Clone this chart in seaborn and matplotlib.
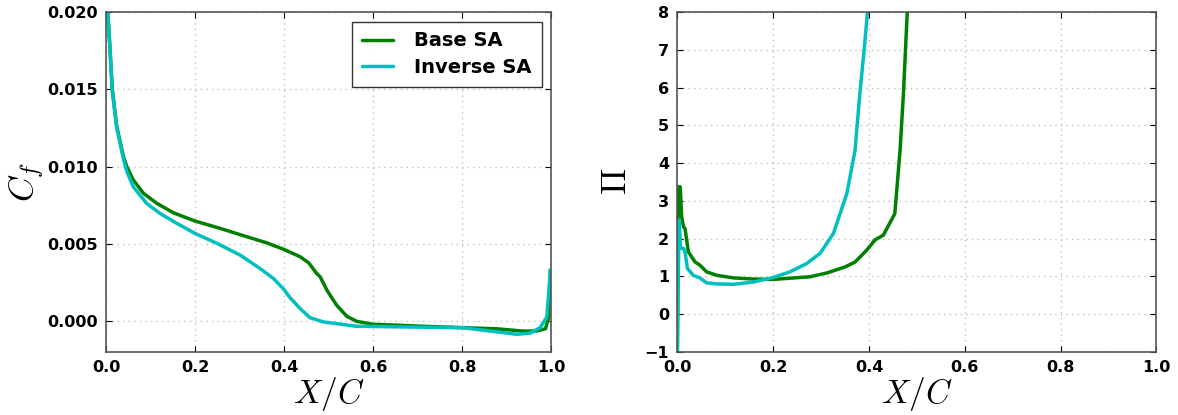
import numpy as np
import pandas as pd
import matplotlib
matplotlib.use("Agg")
import matplotlib.pyplot as plt
import seaborn as sns

# Skin friction along the chord
cf_base_x = [0.001, 0.004, 0.009, 0.014, 0.024, 0.039, 0.0465, 0.061, 0.084, 0.114, 0.151,
             0.20, 0.256, 0.309, 0.361, 0.40, 0.436, 0.455, 0.473, 0.481, 0.496, 0.518,
             0.541, 0.563, 0.60, 0.713, 0.80, 0.876, 0.936, 0.966, 0.987, 0.994, 0.998]
cf_base = [0.0235, 0.0200, 0.0176, 0.0150, 0.0126, 0.01066, 0.0100, 0.00914, 0.00827,
           0.00762, 0.00701, 0.00647, 0.0060, 0.00552, 0.00506, 0.00463, 0.00416, 0.00377,
           0.00308, 0.00286, 0.0020, 0.00102, 0.0003, -0.00002, -0.00021, -0.00034,
           -0.00043, -0.0005, -0.00065, -0.00065, -0.0005, 0.00026, 0.0033]

cf_inv_x = [0.001, 0.004, 0.009, 0.014, 0.024, 0.039, 0.0465, 0.061, 0.091, 0.121, 0.159,
            0.20, 0.249, 0.301, 0.346, 0.376, 0.398, 0.413, 0.436, 0.458, 0.488, 0.563,
            0.713, 0.80, 0.863, 0.923, 0.953, 0.975, 0.99, 0.998]
cf_inv = [0.0235, 0.0200, 0.0175, 0.0149, 0.0125, 0.0105, 0.0097, 0.0087, 0.00762,
          0.00697, 0.00632, 0.00567, 0.00503, 0.00427, 0.0034, 0.00275, 0.0021, 0.00152,
          0.0008, 0.00022, -0.00006, -0.00034, -0.0004, -0.00043, -0.00065, -0.00086,
          -0.00078, -0.00043, 0.00026, 0.0033]

# Wake parameter along the chord
pi_base_x = [0.0, 0.002, 0.006, 0.009, 0.013, 0.016, 0.023, 0.037, 0.047, 0.061, 0.082,
             0.117, 0.159, 0.20, 0.277, 0.312, 0.35, 0.371, 0.395, 0.413, 0.43, 0.454,
             0.465, 0.472, 0.48, 0.482]
pi_base = [-1.0, 3.37, 3.37, 2.57, 2.31, 2.27, 1.65, 1.38, 1.3, 1.12, 1.03,
           0.96, 0.93, 0.92, 0.99, 1.09, 1.25, 1.38, 1.69, 1.97, 2.09, 2.66,
           4.34, 5.84, 8.0, 8.5]

pi_inv_x = [0.0, 0.0035, 0.007, 0.013, 0.016, 0.021, 0.033, 0.047, 0.061, 0.082, 0.117,
            0.159, 0.20, 0.235, 0.27, 0.298, 0.326, 0.354, 0.371, 0.381, 0.39, 0.397, 0.399]
pi_inv = [-1.0, 2.49, 1.74, 1.74, 1.65, 1.21, 1.03, 0.96, 0.83, 0.8, 0.79,
          0.85, 0.97, 1.12, 1.34, 1.61, 2.14, 3.2, 4.34, 5.84, 7.0, 8.0, 8.5]

series_names = ["Base SA", "Inverse SA"]
series_colors = ["#008000", "#00bfbf"]

x_ticks = [0.0, 0.2, 0.4, 0.6, 0.8, 1.0]
cf_ticks = [0.000, 0.005, 0.010, 0.015, 0.020]
pi_ticks = [-1, 0, 1, 2, 3, 4, 5, 6, 7, 8]

sns.set_style("ticks")
plt.rcParams.update({
    "font.family": ["DejaVu Sans"],
    "font.weight": "bold",
    "font.size": 11.5,
    "text.color": "black",
    "axes.labelcolor": "black",
    "mathtext.fontset": "cm",
    "axes.edgecolor": "#555555",
    "axes.linewidth": 1.2,
    "xtick.direction": "in",
    "ytick.direction": "in",
    "xtick.top": True,
    "ytick.right": True,
    "xtick.major.size": 4,
    "ytick.major.size": 4,
    "xtick.color": "black",
    "ytick.color": "black",
})

fig = plt.figure(figsize=(11.78, 4.15), dpi=100)
ax1 = fig.add_axes([0.090, 0.152, 0.378, 0.819])
ax2 = fig.add_axes([0.575, 0.152, 0.4066, 0.819])

cf_df = pd.concat([
    pd.DataFrame({"x": cf_base_x, "y": cf_base, "model": series_names[0]}),
    pd.DataFrame({"x": cf_inv_x, "y": cf_inv, "model": series_names[1]}),
])
pi_df = pd.concat([
    pd.DataFrame({"x": pi_base_x, "y": pi_base, "model": series_names[0]}),
    pd.DataFrame({"x": pi_inv_x, "y": pi_inv, "model": series_names[1]}),
])
palette = dict(zip(series_names, series_colors))

sns.lineplot(data=cf_df, x="x", y="y", hue="model", palette=palette, sort=False,
             estimator=None, linewidth=2.5, ax=ax1)
sns.lineplot(data=pi_df, x="x", y="y", hue="model", palette=palette, sort=False,
             estimator=None, linewidth=2.5, ax=ax2, legend=False)

ax1.set_xlim(0, 1)
ax1.set_ylim(-0.002, 0.020)
ax1.set_xticks(x_ticks)
ax1.set_yticks(cf_ticks)
ax1.set_xticklabels([f"{v:.1f}" for v in x_ticks])
ax1.set_yticklabels([f"{v:.3f}" for v in cf_ticks])
ax1.set_xlabel(r"$X/C$", fontsize=24, labelpad=0)
ax1.set_ylabel(r"$C_f$", fontsize=25, labelpad=0)

ax2.set_xlim(0, 1)
ax2.set_ylim(-1, 8)
ax2.set_xticks(x_ticks)
ax2.set_yticks(pi_ticks)
ax2.set_xticklabels([f"{v:.1f}" for v in x_ticks])
ax2.set_yticklabels(["\u22121" if v < 0 else str(v) for v in pi_ticks])
ax2.set_xlabel(r"$X/C$", fontsize=24, labelpad=0)
ax2.set_ylabel(r"$\Pi$", fontsize=25, labelpad=8)

for ax in (ax1, ax2):
    ax.grid(True, linestyle=(0, (1, 3)), color="#c0c0c0", linewidth=1.0)
    ax.tick_params(which="major", pad=6)
    for lab in ax.get_xticklabels() + ax.get_yticklabels():
        lab.set_fontweight("bold")

leg = ax1.legend(loc="upper right", frameon=True, fancybox=False, borderpad=0.5,
                 handlelength=1.6, handletextpad=1.1, labelspacing=0.4,
                 borderaxespad=0.5, prop={"weight": "bold", "size": 14})
leg.get_frame().set_edgecolor("black")
leg.get_frame().set_linewidth(1.0)
for text in leg.get_texts():
    text.set_color("black")
for line in leg.get_lines():
    line.set_linewidth(2.5)

fig.savefig("out.png", dpi=100)
